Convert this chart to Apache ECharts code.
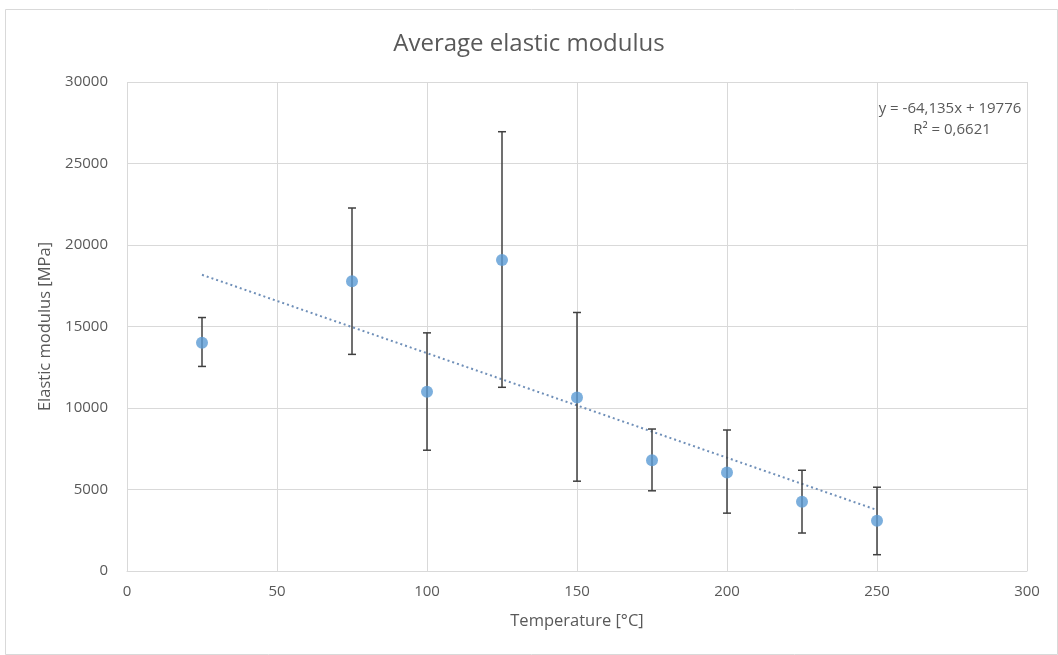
<!DOCTYPE html>
<html>
<head>
<meta charset="utf-8">
<script src="https://cdn.jsdelivr.net/npm/echarts@6/dist/echarts.min.js"></script>
<style>
html,body{margin:0;padding:0;background:#fff;}
#chart{width:1058px;height:655px;}
</style>
</head>
<body>
<div id="chart"></div>
<script>
// Data
var temperatures = [25, 75, 100, 125, 150, 175, 200, 225, 250];
var modulusMean  = [14000, 17780, 11000, 19080, 10650, 6800, 6040, 4250, 3080];
var errorHigh    = [15550, 22270, 14610, 26950, 15860, 8710, 8650, 6180, 5140];
var errorLow     = [12550, 13290, 7410, 11270, 5510, 4920, 3550, 2330, 1000];
var trendSlope = -64.135;
var trendIntercept = 19776;
var trendRange = [25, 250];
var xTicks = [0, 50, 100, 150, 200, 250, 300];
var yTicks = [0, 5000, 10000, 15000, 20000, 25000, 30000];
var equationText = 'y = -64,135x + 19776';
var r2Text = 'R² = 0,6621';

var FONT = 'Open Sans';
var TXT = '#595959';

var scatterData = temperatures.map(function (t, i) { return [t, modulusMean[i]]; });
var errData = temperatures.map(function (t, i) { return [t, errorLow[i], errorHigh[i]]; });
var trendData = trendRange.map(function (x) { return [x, trendSlope * x + trendIntercept]; });

var chart = echarts.init(document.getElementById('chart'));
chart.setOption({
  backgroundColor: '#fff',
  animation: false,
  title: {
    text: 'Average elastic modulus',
    left: 'center', top: 27,
    textStyle: { fontFamily: FONT, fontSize: 24, fontWeight: 'normal', color: TXT }
  },
  grid: { left: 127, right: 31, top: 82, bottom: 84 },
  xAxis: {
    type: 'value', min: xTicks[0], max: xTicks[xTicks.length - 1], interval: 50,
    name: 'Temperature [°C]', nameLocation: 'middle', nameGap: 42,
    nameTextStyle: { fontFamily: FONT, fontSize: 16.5, color: TXT },
    axisLine: { show: true, lineStyle: { color: '#d9d9d9', width: 1 } },
    axisTick: { show: false },
    axisLabel: { fontFamily: FONT, fontSize: 15, color: TXT, margin: 13,
      formatter: function (v) { return String(v); } },
    splitLine: { show: true, lineStyle: { color: '#d9d9d9', width: 1 } }
  },
  yAxis: {
    type: 'value', min: yTicks[0], max: yTicks[yTicks.length - 1], interval: 5000,
    name: 'Elastic modulus [MPa]', nameLocation: 'middle', nameGap: 72, nameRotate: 90,
    nameTextStyle: { fontFamily: FONT, fontSize: 16.5, color: TXT },
    axisLine: { show: false },
    axisTick: { show: false },
    axisLabel: { fontFamily: FONT, fontSize: 15, color: TXT, margin: 19,
      formatter: function (v) { return String(v); } },
    splitLine: { show: true, lineStyle: { color: '#d9d9d9', width: 1 } }
  },
  series: [
    {
      type: 'line', data: trendData, symbol: 'none', silent: true, z: 2,
      lineStyle: { color: '#6f8fb8', width: 2, type: [2, 3] }
    },
    {
      type: 'custom', data: errData, z: 3, silent: true,
      renderItem: function (params, api) {
        var x = api.value(0);
        var lo = api.coord([x, api.value(1)]);
        var hi = api.coord([x, api.value(2)]);
        var hw = 4;
        var style = { stroke: '#404040', lineWidth: 1.5, fill: null };
        return {
          type: 'group',
          children: [
            { type: 'line', shape: { x1: lo[0], y1: lo[1], x2: hi[0], y2: hi[1] }, style: style },
            { type: 'line', shape: { x1: hi[0] - hw, y1: hi[1], x2: hi[0] + hw, y2: hi[1] }, style: style },
            { type: 'line', shape: { x1: lo[0] - hw, y1: lo[1], x2: lo[0] + hw, y2: lo[1] }, style: style }
          ]
        };
      },
      encode: { x: 0, y: [1, 2] }
    },
    {
      type: 'scatter', data: scatterData, symbol: 'circle', symbolSize: 12, z: 4,
      itemStyle: { color: '#5b9bd5' }
    }
  ],
  graphic: [
    {
      type: 'rect', left: 3, top: 7, silent: true,
      shape: { width: 1052, height: 645 },
      style: { fill: null, stroke: '#d9d9d9', lineWidth: 1 }
    },
    {
      type: 'text', x: 950, y: 109,
      style: { text: equationText, fontFamily: FONT, fontSize: 15, fill: TXT,
        textAlign: 'center', textVerticalAlign: 'middle' }
    },
    {
      type: 'text', x: 952, y: 130,
      style: { text: r2Text, fontFamily: FONT, fontSize: 15, fill: TXT,
        textAlign: 'center', textVerticalAlign: 'middle' }
    }
  ]
});
</script>
</body>
</html>
